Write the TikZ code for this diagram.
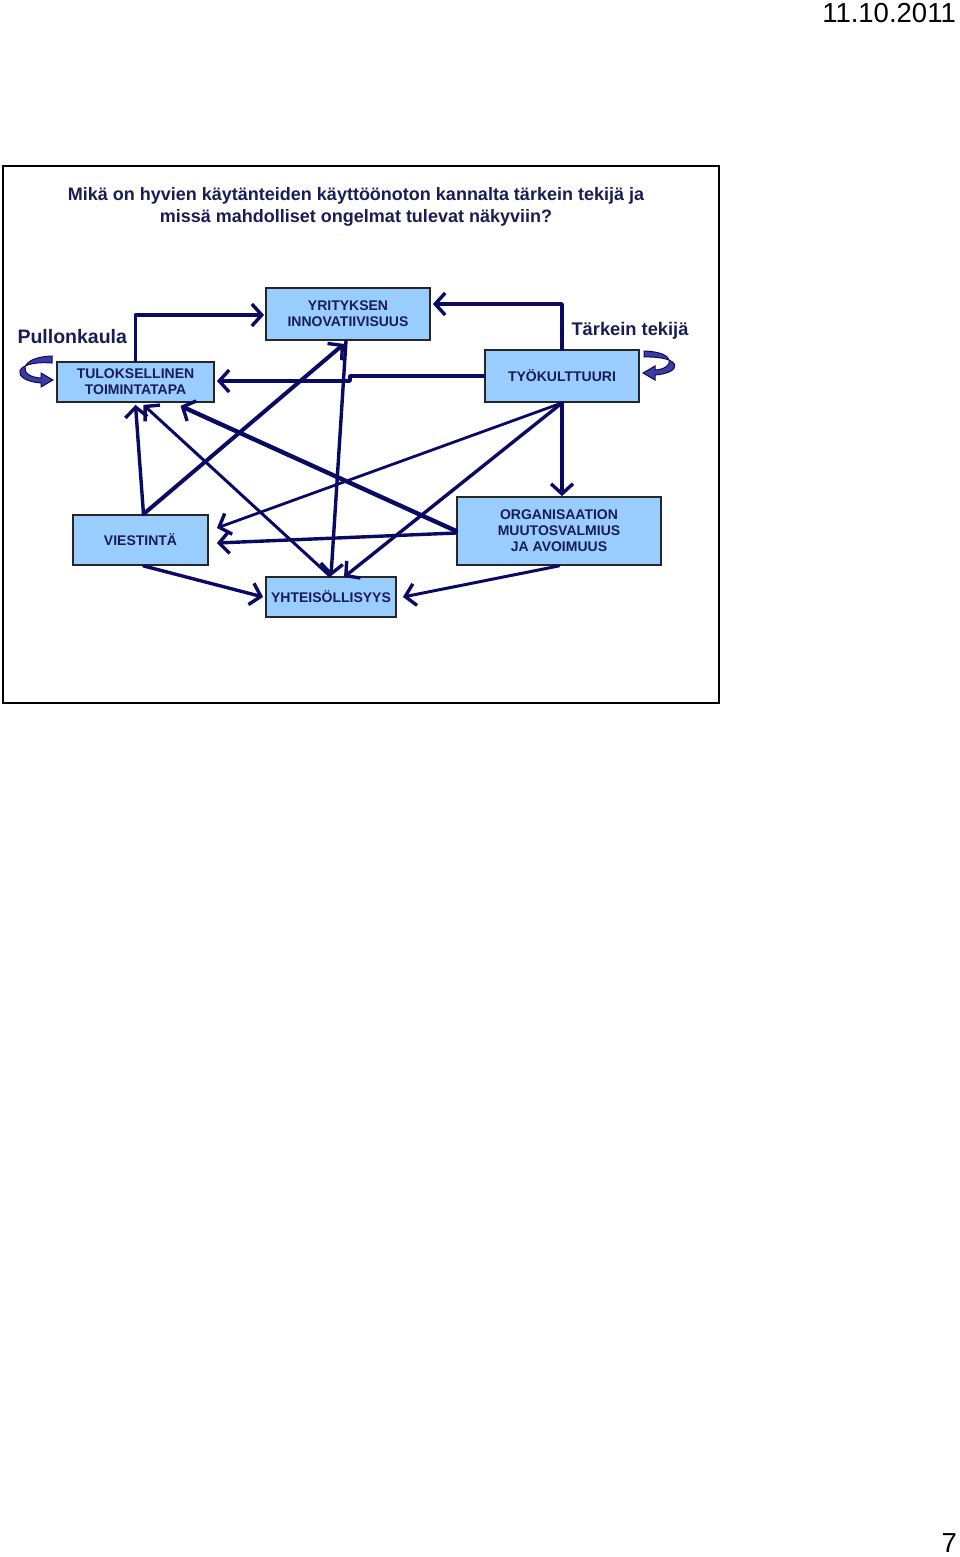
\documentclass[tikz,border=0pt]{standalone}
\usepackage{fontspec}
\setmainfont{Liberation Sans}
\usepackage{xcolor}
\usetikzlibrary{arrows.meta,positioning,calc}

\definecolor{navy}{RGB}{10,10,100}
\definecolor{ink}{RGB}{25,28,85}
\definecolor{boxblue}{RGB}{153,204,255}
\definecolor{turnblue}{RGB}{60,60,160}

\begin{document}
\begin{tikzpicture}[x=1pt,y=-1pt,
    box/.style={draw=black!85,line width=1.8pt,fill=boxblue,inner sep=0pt,align=center,
        text=ink,font=\fontsize{14}{16}\selectfont\bfseries},
    conn/.style={navy,line width=3.4pt,line cap=round,line join=round,
        -{Straight Barb[length=10pt,width=22pt,line width=3.4pt]}},
    turnarrow/.style={draw=navy,line width=1pt,fill=turnblue},
    label/.style={text=ink,font=\fontsize{18.3}{20}\selectfont\bfseries}]
    \useasboundingbox (0,0) rectangle (960,1557);
    % Frame
    \draw[line width=2pt] (3,166) rectangle (719,703);
    \node[font=\fontsize{27.5}{28}\selectfont,anchor=north east,inner sep=0pt] (date) at (956,3) {11.10.2011};
    \node[font=\fontsize{27.5}{28}\selectfont,anchor=base east,inner sep=0pt] (page) at (957,1552) {7};
    % Title
    \node[align=center,text=ink,font=\fontsize{18}{22}\selectfont\bfseries] (title) at (356,207)
        {Mikä on hyvien käytänteiden käyttöönoton kannalta tärkein tekijä ja\\
         missä mahdolliset ongelmat tulevat näkyviin?};
    % Boxes
    \node[box,minimum width=164pt,minimum height=52pt] (yrit) at (348,314) {YRITYKSEN\\INNOVATIIVISUUS};
    \node[box,minimum width=157pt,minimum height=40pt] (tul) at (135.5,382) {TULOKSELLINEN\\TOIMINTATAPA};
    \node[box,minimum width=154pt,minimum height=52pt] (tyo) at (562,376) {TYÖKULTTUURI};
    \node[box,minimum width=135pt,minimum height=50pt] (vie) at (140.5,540) {VIESTINTÄ};
    \node[box,minimum width=204pt,minimum height=68pt] (org) at (559,531) {ORGANISAATION\\MUUTOSVALMIUS\\JA AVOIMUUS};
    \node[box,minimum width=130pt,minimum height=40pt] (yht) at (331,597) {YHTEISÖLLISYYS};
    % Labels
    \node[label,font=\fontsize{19.5}{20}\selectfont\bfseries,anchor=west] (pullo) at (14,337) {Pullonkaula};
    \node[label,anchor=west] (tark) at (568,331) {Tärkein tekijä};
    % Arrows
    \draw[conn] (tul.north) |- ([xshift=-1pt,yshift=-1pt]yrit.west);
    \draw[conn] (tyo.north) |- ([xshift=2pt,yshift=10pt]yrit.east);
    \draw[conn] (tyo.west) -- (350,376) -- (350,381) -- ([xshift=2pt,yshift=1pt]tul.east);
    \draw[conn] ([xshift=-2pt]yrit.south) -- (yht.north);
    \draw[conn,line width=4pt] ([xshift=3pt]vie.north) -- ([xshift=-4pt,yshift=-3pt]yrit.south);
    \draw[conn] ([xshift=3pt]vie.north) -- ([yshift=-2pt]tul.south);
    \draw[conn,line width=3pt] ([xshift=-1pt]yht.north) -- ([xshift=8pt,yshift=-2pt]tul.south);
    \draw[conn,line width=4.4pt] (org.west) -- ([xshift=45pt,yshift=-3pt]tul.south);
    \draw[conn,line width=2.8pt] (tyo.south) -- ([xshift=8pt,yshift=12pt]vie.east);
    \draw[conn] (tyo.south) -- ([xshift=13pt,yshift=-1pt]yht.north);
    \draw[conn] (tyo.south) -- ([xshift=3pt]org.north);
    \draw[conn] ([yshift=-2pt]org.west) -- ([xshift=8pt,yshift=-3pt]vie.east);
    \draw[conn] ([xshift=3pt]vie.south) -- ([xshift=-2pt]yht.west);
    \draw[conn,line width=3pt] (org.south) -- ([xshift=6pt]yht.east);
    % Turn arrows
    \draw[turnarrow] (52,356) .. controls (18,357) and (18,377) .. (41,378)
        -- (41,373) -- (53,380) -- (41,387) -- (41,383)
        .. controls (11,381) and (11,360) .. (52,363) -- cycle;
    \draw[turnarrow] (644,351) .. controls (678,352) and (674,369) .. (655,370)
        -- (655,366) -- (643,373) -- (655,380) -- (655,375)
        .. controls (683,373) and (683,356) .. (644,357) -- cycle;
\end{tikzpicture}
\end{document}
